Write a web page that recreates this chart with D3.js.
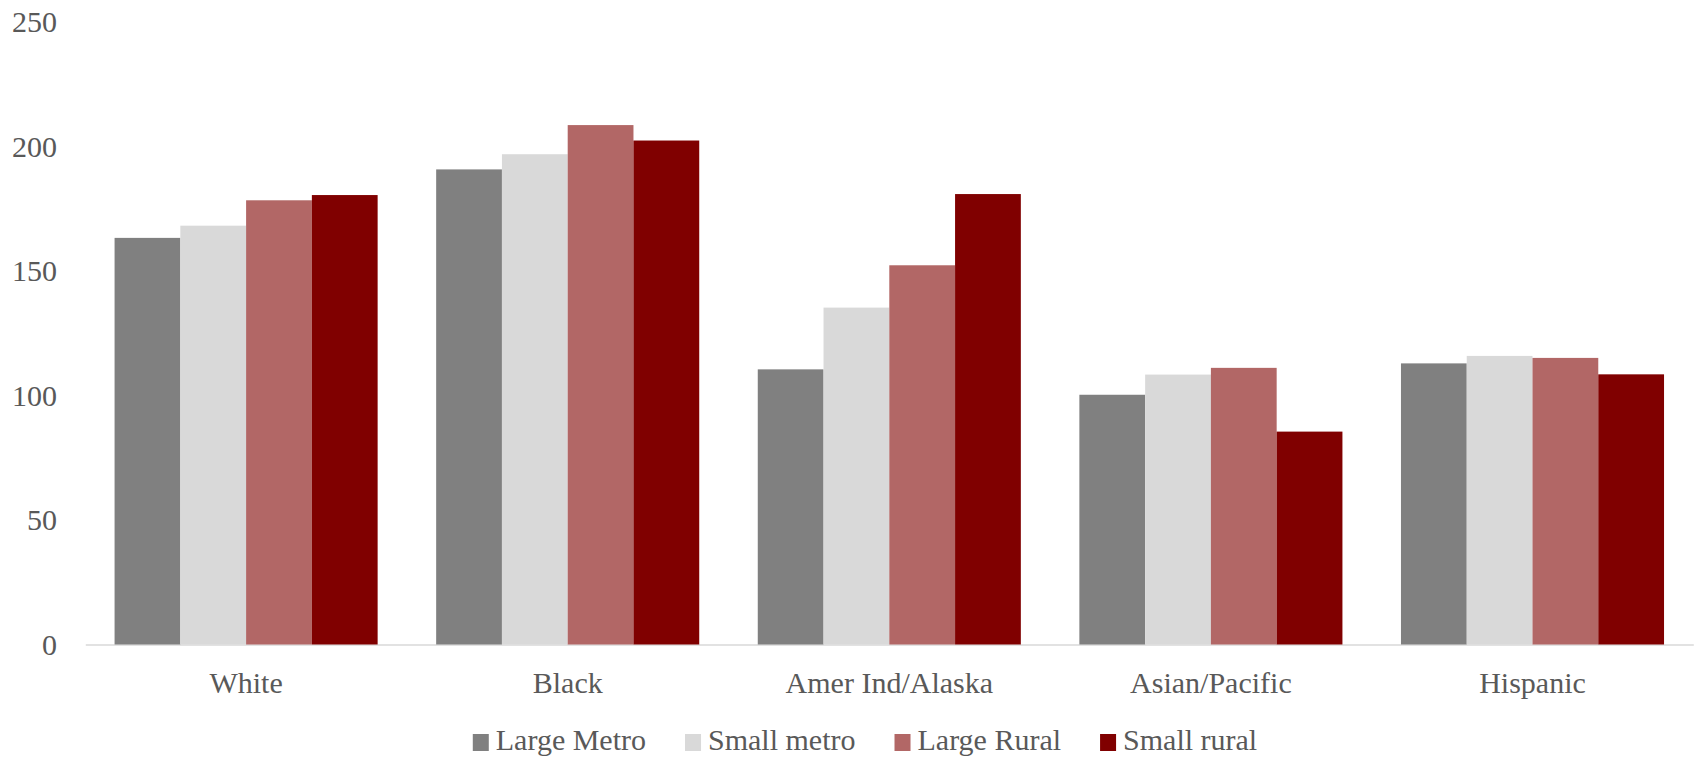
<!DOCTYPE html>
<html><head><meta charset="utf-8">
<script src="https://cdn.jsdelivr.net/npm/d3@7"></script>
<style>
html,body{margin:0;padding:0;background:#fff;}
svg{display:block;}
svg text{font-family:"Liberation Serif","Times New Roman",serif;}
</style></head>
<body>
<svg id="chart" width="1696" height="760"></svg>
<script>
const categories = ["White", "Black", "Amer Ind/Alaska", "Asian/Pacific", "Hispanic"];
const seriesNames = ["Large Metro", "Small metro", "Large Rural", "Small rural"];
const largeMetro = [163.3, 190.8, 110.5, 100.3, 112.9];
const smallMetro = [168.2, 196.9, 135.3, 108.4, 115.9];
const largeRural = [178.4, 208.6, 152.3, 111.1, 115.1];
const smallRural = [180.5, 202.4, 180.9, 85.5, 108.5];
const yTicks = [0, 50, 100, 150, 200, 250];
const colors = ["#808080", "#d9d9d9", "#b26766", "#800000"];

const seriesValues = [largeMetro, smallMetro, largeRural, smallRural];
const svg = d3.select("#chart");

const x0 = d3.scaleBand().domain(categories).range([85.3, 1693.3]).paddingInner(0.182).paddingOuter(0.091);
const x1 = d3.scaleBand().domain(seriesNames).range([0, x0.bandwidth()]);
const y = d3.scaleLinear().domain([0, 250]).range([644.5, 22]);

// x axis
const xAxis = svg.append("g").attr("transform", "translate(0,644.5)")
  .call(d3.axisBottom(x0).tickSize(0).tickSizeOuter(0).tickPadding(27));
xAxis.attr("font-family", null);
xAxis.select(".domain").attr("stroke", "#d9d9d9").attr("stroke-width", 1.5);
xAxis.selectAll("text").attr("font-size", 30).attr("fill", "#595959");

// bars
const groups = svg.append("g").selectAll("g").data(categories).join("g")
  .attr("transform", d => `translate(${x0(d)},0)`);
groups.selectAll("rect")
  .data((c, i) => seriesNames.map((s, j) => ({s, v: seriesValues[j][i], j})))
  .join("rect")
  .attr("x", d => x1(d.s))
  .attr("width", x1.bandwidth())
  .attr("y", d => y(d.v))
  .attr("height", d => y(0) - y(d.v))
  .attr("fill", d => colors[d.j]);

// y axis
const yAxis = svg.append("g").attr("transform", "translate(57,0)")
  .call(d3.axisLeft(y).tickValues(yTicks).tickSize(0).tickPadding(0));
yAxis.attr("font-family", null);
yAxis.select(".domain").remove();
yAxis.selectAll("text").attr("font-size", 30).attr("fill", "#595959");

// legend
const legend = svg.append("g");
const items = legend.selectAll("g").data(seriesNames).join("g");
items.append("rect").attr("width", 16).attr("height", 17).attr("y", 734)
  .attr("fill", (d, i) => colors[i]);
items.append("text").attr("x", 23).attr("y", 750).attr("font-size", 30)
  .attr("fill", "#595959").text(d => d);
const widths = [];
items.each(function() {
  widths.push(23 + this.querySelector("text").getComputedTextLength());
});
const gap = 39;
const total = d3.sum(widths) + gap * (widths.length - 1);
let start = 865 - total / 2;
items.attr("transform", (d, i) => {
  const t = `translate(${start},0)`;
  start += widths[i] + gap;
  return t;
});
</script>
</body></html>
